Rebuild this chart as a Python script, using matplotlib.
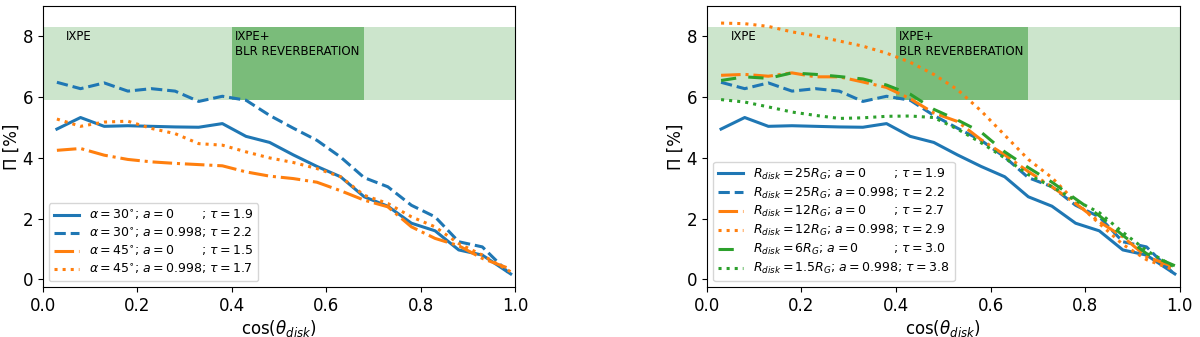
import matplotlib
matplotlib.use("Agg")
import matplotlib.pyplot as plt

# cos(theta_disk) sample points
cos_theta = [0.03, 0.08, 0.13, 0.18, 0.23, 0.28, 0.33, 0.38, 0.43, 0.48,
             0.53, 0.58, 0.63, 0.68, 0.73, 0.78, 0.83, 0.88, 0.93, 0.99]

# polarization degree [%]
pol_r25_a0 = [4.95, 5.33, 5.04, 5.06, 5.04, 5.02, 5.01, 5.13, 4.71, 4.51,
              4.10, 3.72, 3.38, 2.72, 2.41, 1.85, 1.60, 0.97, 0.80, 0.18]
pol_r25_a998 = [6.49, 6.28, 6.47, 6.20, 6.28, 6.20, 5.86, 6.03, 5.90, 5.40,
                4.98, 4.58, 4.03, 3.35, 3.05, 2.44, 2.06, 1.24, 1.07, 0.15]
pol_a45_a0 = [4.25, 4.31, 4.09, 3.95, 3.87, 3.82, 3.78, 3.74, 3.54, 3.40,
              3.32, 3.20, 2.92, 2.61, 2.39, 1.73, 1.35, 1.11, 0.69, 0.34]
pol_a45_a998 = [5.28, 5.04, 5.18, 5.21, 4.97, 4.80, 4.47, 4.42, 4.20, 4.00,
                3.85, 3.65, 3.38, 2.77, 2.50, 2.06, 1.73, 1.18, 0.80, 0.25]
pol_r12_a0 = [6.72, 6.75, 6.69, 6.80, 6.67, 6.67, 6.50, 6.32, 5.95, 5.48,
              5.20, 4.60, 4.10, 3.55, 3.05, 2.50, 1.90, 1.40, 0.75, 0.40]
pol_r12_a998 = [8.44, 8.42, 8.33, 8.15, 8.02, 7.85, 7.68, 7.45, 7.15, 6.75,
                6.25, 5.55, 4.75, 3.95, 3.35, 2.55, 1.84, 1.15, 0.65, 0.30]
pol_r6_a0 = [6.55, 6.67, 6.62, 6.80, 6.75, 6.68, 6.60, 6.40, 6.10, 5.60,
             5.25, 4.85, 4.20, 3.68, 3.20, 2.65, 2.10, 1.45, 0.85, 0.45]
pol_r15_a998 = [5.92, 5.84, 5.68, 5.51, 5.40, 5.30, 5.32, 5.37, 5.38, 5.33,
                4.95, 4.50, 4.00, 3.45, 3.05, 2.60, 2.20, 1.55, 0.95, 0.40]

left_labels = [
    r"$\alpha=30^{\circ}$; $a=0$       ; $\tau=1.9$",
    r"$\alpha=30^{\circ}$; $a=0.998$; $\tau=2.2$",
    r"$\alpha=45^{\circ}$; $a=0$       ; $\tau=1.5$",
    r"$\alpha=45^{\circ}$; $a=0.998$; $\tau=1.7$",
]
right_labels = [
    r"$R_{disk}=25R_G$; $a=0$       ; $\tau=1.9$",
    r"$R_{disk}=25R_G$; $a=0.998$; $\tau=2.2$",
    r"$R_{disk}=12R_G$; $a=0$       ; $\tau=2.7$",
    r"$R_{disk}=12R_G$; $a=0.998$; $\tau=2.9$",
    r"$R_{disk}=6R_G$; $a=0$         ; $\tau=3.0$",
    r"$R_{disk}=1.5R_G$; $a=0.998$; $\tau=3.8$",
]

IXPE_BAND = (5.9, 8.3)
BLR_RANGE = (0.4, 0.68)

LW = 2.2
BLUE, ORANGE, GREEN = "#1f77b4", "#ff7f0e", "#2ca02c"


def decorate(ax):
    ax.axhspan(*IXPE_BAND, color="green", alpha=0.2, lw=0)
    ax.fill_between(BLR_RANGE, IXPE_BAND[0], IXPE_BAND[1], color="green", alpha=0.4, lw=0)
    ax.text(0.05, 8.0, "IXPE", va="center", fontsize=8.5)
    ax.text(0.407, 8.2, "IXPE+\nBLR REVERBERATION", va="top", fontsize=8.5, linespacing=1.15)
    ax.set_xlim(0, 1)
    ax.set_ylim(-0.26, 9.0)
    ax.set_yticks([0, 2, 4, 6, 8])
    ax.tick_params(labelsize=12)
    ax.set_xlabel(r"cos($\theta_{disk}$)", fontsize=12, labelpad=2)
    ax.set_ylabel(r"Π [%]", fontsize=12, labelpad=1)


fig, (ax1, ax2) = plt.subplots(1, 2, figsize=(12, 3.37), dpi=100)
fig.subplots_adjust(left=0.0356, right=0.983, bottom=0.1475, top=0.982, wspace=0.405)

decorate(ax1)
ax1.plot(cos_theta, pol_r25_a0, color=BLUE, lw=LW, ls="-", label=left_labels[0])
ax1.plot(cos_theta, pol_r25_a998, color=BLUE, lw=LW, ls="--", label=left_labels[1])
ax1.plot(cos_theta, pol_a45_a0, color=ORANGE, lw=LW, ls="-.", label=left_labels[2])
ax1.plot(cos_theta, pol_a45_a998, color=ORANGE, lw=LW, ls=":", label=left_labels[3])
ax1.legend(loc="lower left", fontsize=9, labelspacing=0.3)

decorate(ax2)
ax2.plot(cos_theta, pol_r25_a0, color=BLUE, lw=LW, ls="-", label=right_labels[0])
ax2.plot(cos_theta, pol_r25_a998, color=BLUE, lw=LW, ls="--", label=right_labels[1])
ax2.plot(cos_theta, pol_r12_a0, color=ORANGE, lw=LW, ls="-.", label=right_labels[2])
ax2.plot(cos_theta, pol_r12_a998, color=ORANGE, lw=LW, ls=":", label=right_labels[3])
ax2.plot(cos_theta, pol_r6_a0, color=GREEN, lw=LW, ls=(0, (5, 4)), label=right_labels[4])
ax2.plot(cos_theta, pol_r15_a998, color=GREEN, lw=LW, ls=":", label=right_labels[5])
ax2.legend(loc="lower left", fontsize=9, labelspacing=0.3)

fig.savefig("out.png", dpi=100)
